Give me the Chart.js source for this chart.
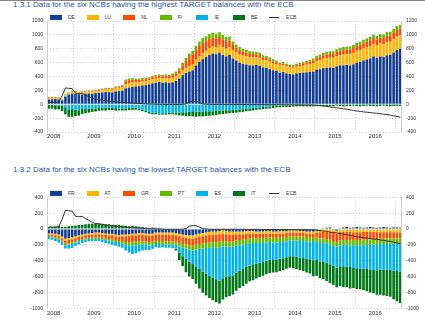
<!DOCTYPE html>
<html><head><meta charset="utf-8">
<script src="https://cdn.jsdelivr.net/npm/chart.js@4/dist/chart.umd.min.js"></script>
<style>
html,body{margin:0;padding:0;background:#fff;}
body{width:425px;height:336px;position:relative;overflow:hidden;font-family:'Liberation Sans',Arial,sans-serif;}
.topline{position:absolute;left:0;top:0;width:425px;height:1px;background:#888;}
.title{position:absolute;left:13px;font-size:8px;color:#3058a8;white-space:nowrap;line-height:10px;}
.lg{position:absolute;font-size:5px;color:#333;line-height:6px;white-space:nowrap;}
.box{position:absolute;width:12px;height:5px;}
.ln{position:absolute;width:10px;height:1px;background:#333;}
canvas{position:absolute;left:0;}
</style></head>
<body>
<div class="topline"></div>
<div class="title" style="top:0px">1.3.1 Data for the six NCBs having the highest TARGET balances with the ECB</div>
<div id="lg1"></div>
<canvas id="c1" width="425" height="150" style="top:0px"></canvas>
<div class="title" style="top:165px">1.3.2 Data for the six NCBs having the lowest TARGET balances with the ECB</div>
<div id="lg2"></div>
<canvas id="c2" width="425" height="186" style="top:150px"></canvas>
<script>
// Categories: monthly, May 2008 .. Feb 2017
const startYear = 2008, startMonth = 5, monthCount = 106;
const months = [];
for (let i = 0; i < monthCount; i++) {
  const m = startMonth - 1 + i;
  const y = startYear + Math.floor(m / 12);
  months.push(y + '-' + String(m % 12 + 1).padStart(2, '0'));
}

// ---------- 1.3.1 highest balances ----------
const topNames = ['DE', 'LU', 'NL', 'FI', 'IE', 'BE'];
const DE = [70,72,75,70,55,110,140,150,
150,145,140,150,155,150,160,165,170,175,175,170,
185,190,195,230,240,250,255,260,270,275,285,300,
310,320,310,315,305,315,335,370,420,450,470,490,
560,610,650,680,710,730,720,745,710,690,710,660,
630,600,580,575,560,560,565,555,530,525,505,490,
480,455,465,445,435,430,445,450,455,460,465,470,
500,505,520,525,530,525,545,560,560,565,560,575,
600,610,630,645,660,690,670,690,680,705,710,745,
780,800];
const LU = [15,15,15,15,10,20,20,20,
25,25,25,25,25,30,30,30,30,35,35,40,
40,40,45,60,65,65,65,60,60,60,60,60,
60,60,60,60,65,65,65,70,70,75,80,90,
80,80,85,90,95,100,105,105,110,110,110,115,
115,115,120,120,120,120,115,115,110,110,110,105,
100,100,100,100,95,95,95,100,100,110,115,120,
125,130,135,140,140,145,150,150,155,155,160,165,
170,170,175,175,180,180,180,185,185,190,190,190,
195,195];
const NL = [15,15,10,10,5,-15,-12,8,
10,-10,8,8,10,10,10,12,15,15,15,15,
15,15,20,40,40,35,30,30,30,30,25,30,
30,30,35,35,35,40,45,50,70,100,130,140,
140,150,150,140,135,130,125,120,115,110,100,80,
70,65,60,50,45,45,40,40,35,30,30,25,
25,20,20,20,20,20,25,25,30,30,35,40,
40,45,50,50,55,55,60,60,65,65,70,70,
70,75,75,80,80,85,85,85,90,90,90,95,
95,95];
const FI = [5,5,5,5,5,10,10,10,
10,10,10,10,10,10,10,10,10,10,10,10,
15,15,15,25,25,25,20,20,20,20,20,20,
20,20,20,20,20,25,25,30,35,45,50,50,
60,65,70,70,75,70,70,70,65,60,55,50,
45,45,40,40,40,35,35,35,30,30,30,30,
25,25,25,20,20,20,20,20,25,25,25,30,
35,35,35,40,40,40,40,45,45,45,45,45,
45,45,50,50,50,50,50,50,50,55,55,55,
55,55];
const IE = [-10,-10,-15,-15,-20,-40,-60,-70,
-80,-75,-70,-70,-65,-60,-60,-55,-50,-50,-50,-50,
-55,-60,-60,-60,-55,-50,-50,-60,-75,-90,-110,-120,
-125,-130,-130,-130,-125,-120,-120,-120,-115,-115,-110,-110,
-110,-105,-105,-100,-100,-100,-95,-90,-90,-85,-85,-80,
-80,-75,-70,-65,-60,-55,-50,-45,-40,-35,-30,-25,
-20,-20,-15,-15,-15,-15,-10,-10,-10,-10,-10,-10,
-8,-8,-8,-8,-8,-8,-6,-6,-6,-6,-6,-6,
-5,-5,-5,-5,-5,-5,-5,-5,-5,-5,-5,-5,
-5,-5];
const BE = [-55,-55,-60,-60,-80,-90,-110,-110,
-90,-80,-70,-60,-55,-50,-45,-40,-40,-40,-35,-35,
-35,-30,-30,-30,-30,-30,-30,-25,-25,-25,-25,-25,
-20,-20,-20,-20,-20,-25,-30,-40,-50,-55,-60,-65,
-70,-70,-70,-70,-65,-60,-60,-55,-50,-50,-45,-45,
-40,-40,-40,-35,-35,-35,-30,-30,-30,-30,-30,-30,
-25,-25,-25,-25,-25,-20,-20,-20,-20,-20,-20,-20,
-20,-15,-20,-25,-20,-20,-15,-20,-25,-20,-20,-15,
-20,-25,-20,-15,-20,-20,-25,-20,-15,-20,-25,-20,
-20,-20];

// ---------- 1.3.2 lowest balances ----------
const lowNames = ['FR', 'AT', 'GR', 'PT', 'ES', 'IT'];
const FR = [-55,-55,-60,-70,-95,-120,-115,-105,
-90,-80,-70,-60,-55,-50,-45,-45,-50,-55,-60,-60,
-70,-75,-70,-70,-65,-60,-55,-50,-50,-55,-60,-55,
-45,-45,-45,-45,-45,-45,-50,-60,-70,-75,-80,-80,
-70,-60,-50,-40,-35,-30,-30,-25,-20,-25,-30,-30,
-30,-30,-30,-25,-25,-25,-30,-30,-30,-25,-25,-30,
-30,-25,-25,-25,-20,-20,-20,-25,-25,-30,-30,-30,
-20,-10,10,15,20,-10,-20,10,20,25,15,20,
25,20,15,20,25,20,15,20,25,20,15,20,
20,15];
const AT = [-15,-15,-20,-20,-20,-25,-25,-25,
-25,-20,-20,-20,-20,-20,-20,-20,-20,-20,-20,-20,
-20,-20,-20,-20,-20,-20,-25,-25,-25,-25,-25,-25,
-25,-25,-25,-30,-30,-30,-30,-30,-35,-35,-35,-40,
-40,-40,-40,-40,-40,-40,-40,-40,-40,-40,-40,-40,
-35,-35,-35,-35,-30,-30,-30,-30,-30,-30,-30,-30,
-30,-30,-30,-25,-25,-25,-25,-25,-25,-25,-25,-30,
-30,-30,-30,-30,-35,-35,-35,-35,-35,-35,-35,-40,
-40,-40,-35,-35,-35,-35,-40,-40,-40,-40,-40,-40,
-40,-40];
const GR = [-20,-25,-25,-25,-30,-40,-40,-40,
-40,-40,-35,-35,-35,-40,-40,-40,-40,-45,-45,-50,
-50,-55,-60,-75,-80,-80,-80,-80,-80,-80,-80,-80,
-80,-80,-80,-80,-80,-80,-80,-85,-85,-85,-90,-90,
-90,-90,-90,-95,-95,-95,-95,-95,-90,-90,-90,-90,
-80,-75,-70,-65,-60,-55,-55,-55,-55,-55,-50,-50,
-50,-50,-50,-50,-45,-45,-45,-45,-45,-45,-45,-50,
-55,-80,-90,-95,-100,-105,-110,-110,-105,-105,-105,-100,
-100,-100,-100,-100,-95,-90,-90,-80,-80,-80,-75,-75,
-75,-75];
const PT = [-10,-10,-10,-15,-15,-20,-20,-20,
-15,-15,-15,-15,-15,-15,-20,-20,-20,-20,-20,-25,
-25,-25,-30,-35,-40,-45,-45,-40,-40,-40,-40,-40,
-40,-40,-40,-40,-40,-40,-40,-45,-45,-50,-55,-60,
-60,-60,-65,-65,-65,-65,-70,-70,-70,-65,-65,-65,
-65,-65,-65,-65,-65,-65,-60,-60,-60,-60,-60,-60,
-60,-60,-60,-55,-55,-55,-55,-55,-55,-55,-55,-55,
-55,-55,-55,-55,-60,-60,-60,-60,-60,-60,-65,-65,
-65,-65,-65,-65,-70,-70,-70,-70,-70,-70,-70,-75,
-75,-75];
const ES = [-30,-30,-35,-40,-40,-40,-45,-50,
-45,-40,-35,-35,-30,-30,-30,-30,-35,-40,-40,-45,
-45,-50,-55,-70,-90,-110,-100,-90,-75,-65,-60,-50,
-40,-45,-40,-40,-40,-45,-50,-80,-110,-130,-150,-170,
-220,-250,-290,-320,-350,-380,-400,-420,-400,-380,-370,-360,
-340,-320,-300,-290,-280,-270,-260,-250,-240,-230,-225,-220,
-215,-210,-205,-200,-200,-200,-205,-210,-215,-220,-225,-230,
-230,-235,-240,-245,-250,-255,-260,-265,-270,-275,-275,-280,
-290,-295,-300,-305,-310,-315,-320,-320,-320,-325,-330,-335,
-340,-345];
const IT = [25,25,30,40,30,30,35,40,
45,50,55,60,65,65,70,70,65,60,60,55,
50,50,45,40,35,40,35,30,25,20,15,20,
15,15,10,5,5,0,-20,-90,-120,-170,-190,-190,
-210,-250,-270,-280,-285,-290,-290,-290,-270,-260,-250,-240,
-230,-220,-220,-210,-200,-200,-190,-180,-175,-170,-165,-160,
-160,-155,-150,-145,-145,-150,-155,-160,-165,-175,-180,-200,
-200,-210,-220,-230,-240,-240,-250,-250,-260,-260,-270,-260,
-260,-260,-270,-280,-290,-300,-310,-320,-330,-330,-340,-360,
-380,-400];

// ECB's own TARGET balance (line in both panels)
const ECB = [25,25,25,30,120,235,230,225,
160,155,160,130,110,85,70,65,58,50,45,40,
35,30,27,25,20,17,14,12,8,5,3,2,
0,-2,-2,-3,-3,-3,-3,-3,-2,5,35,42,
42,25,5,0,-2,-3,-3,-3,-3,-3,-3,-3,
-3,-4,-3,-4,-5,-5,-4,-5,-5,-6,-6,-6,
-6,-6,-7,-7,-8,-8,-8,-9,-9,-10,-10,-12,
-15,-20,-25,-30,-38,-45,-50,-58,-65,-72,-80,-90,
-97,-103,-110,-115,-120,-125,-130,-137,-143,-150,-157,-165,
-175,-185];

const topTicks = [-400, -200, 0, 200, 400, 600, 800, 1000, 1200];
const lowTicks = [-1000, -800, -600, -400, -200, 0, 200, 400];

const palette = ['#143d95', '#ffb400', '#ff4b00', '#65b800', '#00b1ea', '#007816'];
const ecbColor = '#333333';

Chart.defaults.font.family = "'Liberation Sans', Arial, sans-serif";
Chart.defaults.color = '#333';

function buildLegend(id, names, cy) {
  const el = document.getElementById(id);
  let html = '';
  names.forEach((n, i) => {
    const x = 50 + i * 36.6;
    html += '<div class="box" style="left:' + x + 'px;top:' + (cy - 2.5) + 'px;background:' + palette[i] + '"></div>';
    html += '<div class="lg" style="left:' + (x + 18) + 'px;top:' + (cy - 3) + 'px">' + n + '</div>';
  });
  const x = 50 + names.length * 36.6 - 0.5;
  html += '<div class="ln" style="left:' + x + 'px;top:' + (cy - 0.5) + 'px"></div>';
  html += '<div class="lg" style="left:' + (x + 17) + 'px;top:' + (cy - 3) + 'px">ECB</div>';
  el.innerHTML = html;
}

const borderPlugin = {
  id: 'plotBorder',
  afterDraw(chart) {
    const a = chart.chartArea, ctx = chart.ctx;
    ctx.save();
    ctx.strokeStyle = '#d0d0d0';
    ctx.lineWidth = 1;
    ctx.beginPath();
    ctx.moveTo(Math.round(a.left) + 0.5, a.top);
    ctx.lineTo(Math.round(a.left) + 0.5, a.bottom);
    ctx.moveTo(Math.round(a.right) - 0.5, a.top);
    ctx.lineTo(Math.round(a.right) - 0.5, a.bottom);
    ctx.stroke();
    ctx.restore();
  }
};

function makeChart(id, names, series, ticks, padTop, xHeight, xPad) {
  const datasets = [{
    type: 'line', label: 'ECB', data: ECB, borderColor: ecbColor, borderWidth: 1,
    pointRadius: 0, tension: 0, stack: 'ecb', order: 0, yAxisID: 'y'
  }];
  series.forEach((s, i) => datasets.push({
    type: 'bar', label: names[i], data: s, backgroundColor: palette[i],
    borderWidth: 0, stack: 'ncb', order: 1, yAxisID: 'y',
    barPercentage: 0.78, categoryPercentage: 1
  }));
  const yMin = ticks[0], yMax = ticks[ticks.length - 1];
  const yTicks = { stepSize: 200, font: { size: 5 }, color: '#333', callback: (v) => String(v) };
  return new Chart(document.getElementById(id), {
    data: { labels: months, datasets },
    plugins: [borderPlugin],
    options: {
      responsive: false, animation: false, devicePixelRatio: 1,
      layout: { padding: { top: padTop, left: 0, right: 0, bottom: 0 } },
      plugins: { legend: { display: false }, tooltip: { enabled: false }, title: { display: false } },
      scales: {
        x: {
          stacked: true, offset: true,
          grid: {
            offset: true, drawTicks: false, lineWidth: 1,
            color: (c) => { const l = months[c.index]; return l && l.endsWith('-01') ? '#cfcfcf' : 'rgba(0,0,0,0)'; }
          },
          border: { display: false, dash: [1, 2] },
          ticks: {
            autoSkip: false, maxRotation: 0, minRotation: 0, padding: xPad, labelOffset: -1.67,
            font: { size: 6 }, color: '#333',
            callback: (v, i) => months[i].endsWith('-07') ? months[i].slice(0, 4) : ''
          },
          afterFit: (s) => { s.height = xHeight; }
        },
        y: {
          stacked: true, position: 'left', min: yMin, max: yMax,
          ticks: Object.assign({ padding: 4 }, yTicks),
          grid: { color: '#d4d4d4', drawTicks: false, lineWidth: 1 },
          border: { display: false, dash: [1, 2] },
          afterFit: (s) => { s.width = 47; }
        },
        y2: {
          position: 'right', min: yMin, max: yMax,
          ticks: Object.assign({ padding: 4 }, yTicks),
          grid: { display: false, drawTicks: false },
          border: { display: false },
          afterFit: (s) => { s.width = 23; }
        }
      }
    }
  });
}

buildLegend('lg1', topNames, 17);
buildLegend('lg2', lowNames, 193.3);
makeChart('c1', topNames, [DE, LU, NL, FI, IE, BE], topTicks, 21, 18, 1);
makeChart('c2', lowNames, [FR, AT, GR, PT, ES, IT], lowTicks, 47.3, 27.7, 1);
</script>
</body></html>
